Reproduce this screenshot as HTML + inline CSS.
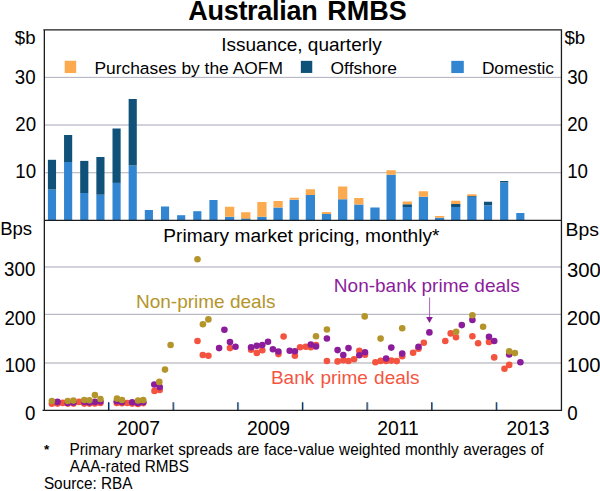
<!DOCTYPE html>
<html lang="en"><head><meta charset="utf-8"><title>Australian RMBS</title>
<style>html,body{margin:0;padding:0;background:#fff}body{width:600px;height:491px;overflow:hidden}svg{display:block}text{font-family:"Liberation Sans",sans-serif;fill:#000}</style></head><body>
<svg width="600" height="491" viewBox="0 0 600 491">
<rect width="600" height="491" fill="#fff"/>
<rect x="44.35" y="77" width="517.10" height="1" fill="#b9b9c5"/>
<rect x="44.35" y="76.6" width="517.10" height="0.4" fill="#e6e6ec"/>
<rect x="44.35" y="124" width="517.10" height="2" fill="#d2d2dc"/>
<rect x="44.35" y="172" width="517.10" height="1" fill="#c2c2ca"/>
<rect x="44.35" y="173" width="517.10" height="1" fill="#ececf0"/>
<rect x="44.35" y="266" width="517.10" height="2" fill="#d2d2dc"/>
<rect x="44.35" y="314" width="517.10" height="1" fill="#b9b9c5"/>
<rect x="44.35" y="313" width="517.10" height="1" fill="#f0f0f4"/>
<rect x="44.35" y="362" width="517.10" height="2" fill="#d2d2d6"/>
<rect x="47.90" y="189.5" width="8.15" height="30.50" fill="#3185d1"/>
<rect x="47.90" y="159.8" width="8.15" height="29.70" fill="#10517a"/>
<rect x="64.05" y="162.0" width="8.15" height="58.00" fill="#3185d1"/>
<rect x="64.05" y="135.0" width="8.15" height="27.00" fill="#10517a"/>
<rect x="80.20" y="193.0" width="8.15" height="27.00" fill="#3185d1"/>
<rect x="80.20" y="160.9" width="8.15" height="32.10" fill="#10517a"/>
<rect x="96.35" y="194.7" width="8.15" height="25.30" fill="#3185d1"/>
<rect x="96.35" y="157.0" width="8.15" height="37.70" fill="#10517a"/>
<rect x="112.50" y="182.9" width="8.15" height="37.10" fill="#3185d1"/>
<rect x="112.50" y="128.5" width="8.15" height="54.40" fill="#10517a"/>
<rect x="128.65" y="165.5" width="8.15" height="54.50" fill="#3185d1"/>
<rect x="128.65" y="99.0" width="8.15" height="66.50" fill="#10517a"/>
<rect x="144.80" y="210.0" width="8.15" height="10.00" fill="#3185d1"/>
<rect x="160.95" y="206.5" width="8.15" height="13.50" fill="#3185d1"/>
<rect x="177.10" y="215.2" width="8.15" height="4.80" fill="#3185d1"/>
<rect x="193.25" y="211.2" width="8.15" height="8.80" fill="#3185d1"/>
<rect x="209.40" y="200.0" width="8.15" height="20.00" fill="#3185d1"/>
<rect x="225.00" y="216.75" width="9.25" height="3.25" fill="#3185d1"/>
<rect x="225.00" y="206.75" width="9.25" height="10.00" fill="#fbaa4f"/>
<rect x="241.15" y="219.0" width="9.25" height="1.00" fill="#3185d1"/>
<rect x="241.15" y="218.5" width="9.25" height="0.50" fill="#10517a"/>
<rect x="241.15" y="212.25" width="9.25" height="6.25" fill="#fbaa4f"/>
<rect x="257.30" y="216.75" width="9.25" height="3.25" fill="#3185d1"/>
<rect x="257.30" y="202.0" width="9.25" height="14.75" fill="#fbaa4f"/>
<rect x="273.45" y="207.5" width="9.25" height="12.50" fill="#3185d1"/>
<rect x="273.45" y="201.0" width="9.25" height="6.50" fill="#fbaa4f"/>
<rect x="289.60" y="199.75" width="9.25" height="20.25" fill="#3185d1"/>
<rect x="289.60" y="197.75" width="9.25" height="2.00" fill="#fbaa4f"/>
<rect x="305.75" y="195.0" width="9.25" height="25.00" fill="#3185d1"/>
<rect x="305.75" y="189.25" width="9.25" height="5.75" fill="#fbaa4f"/>
<rect x="321.90" y="214.0" width="9.25" height="6.00" fill="#3185d1"/>
<rect x="321.90" y="212.1" width="9.25" height="1.90" fill="#fbaa4f"/>
<rect x="338.05" y="199.25" width="9.25" height="20.75" fill="#3185d1"/>
<rect x="338.05" y="186.5" width="9.25" height="12.75" fill="#fbaa4f"/>
<rect x="354.20" y="204.5" width="9.25" height="15.50" fill="#3185d1"/>
<rect x="354.20" y="198.0" width="9.25" height="6.50" fill="#fbaa4f"/>
<rect x="370.35" y="207.5" width="9.25" height="12.50" fill="#3185d1"/>
<rect x="386.50" y="174.75" width="9.25" height="45.25" fill="#3185d1"/>
<rect x="386.50" y="170.25" width="9.25" height="4.50" fill="#fbaa4f"/>
<rect x="402.65" y="207.0" width="9.25" height="13.00" fill="#3185d1"/>
<rect x="402.65" y="204.25" width="9.25" height="2.75" fill="#10517a"/>
<rect x="402.65" y="201.5" width="9.25" height="2.75" fill="#fbaa4f"/>
<rect x="418.80" y="196.75" width="9.25" height="23.25" fill="#3185d1"/>
<rect x="418.80" y="191.25" width="9.25" height="5.50" fill="#fbaa4f"/>
<rect x="434.95" y="217.75" width="9.25" height="2.25" fill="#3185d1"/>
<rect x="434.95" y="216.0" width="9.25" height="1.75" fill="#fbaa4f"/>
<rect x="451.10" y="207.0" width="9.25" height="13.00" fill="#3185d1"/>
<rect x="451.10" y="204.0" width="9.25" height="3.00" fill="#10517a"/>
<rect x="451.10" y="200.75" width="9.25" height="3.25" fill="#fbaa4f"/>
<rect x="467.25" y="196.75" width="9.25" height="23.25" fill="#3185d1"/>
<rect x="467.25" y="196.0" width="9.25" height="0.75" fill="#10517a"/>
<rect x="467.25" y="194.25" width="9.25" height="1.75" fill="#fbaa4f"/>
<rect x="483.95" y="205.25" width="8.15" height="14.75" fill="#3185d1"/>
<rect x="483.95" y="201.75" width="8.15" height="3.50" fill="#10517a"/>
<rect x="500.10" y="182.5" width="8.15" height="37.50" fill="#3185d1"/>
<rect x="500.10" y="181.0" width="8.15" height="1.50" fill="#10517a"/>
<rect x="516.25" y="213.0" width="8.15" height="7.00" fill="#3185d1"/>
<rect x="107.25" y="402.4" width="0.8" height="7.6" fill="#fdf3cf"/>
<rect x="108.90" y="402.4" width="0.95" height="7.6" fill="#58a6e6"/>
<rect x="108.00" y="402.2" width="1.05" height="8" fill="#18264a"/>
<rect x="171.88" y="402.4" width="0.8" height="7.6" fill="#fdf3cf"/>
<rect x="173.53" y="402.4" width="0.95" height="7.6" fill="#58a6e6"/>
<rect x="172.63" y="402.2" width="1.05" height="8" fill="#18264a"/>
<rect x="236.51" y="402.4" width="0.8" height="7.6" fill="#fdf3cf"/>
<rect x="238.16" y="402.4" width="0.95" height="7.6" fill="#58a6e6"/>
<rect x="237.26" y="402.2" width="1.05" height="8" fill="#18264a"/>
<rect x="301.14" y="402.4" width="0.8" height="7.6" fill="#fdf3cf"/>
<rect x="302.79" y="402.4" width="0.95" height="7.6" fill="#58a6e6"/>
<rect x="301.89" y="402.2" width="1.05" height="8" fill="#18264a"/>
<rect x="365.77" y="402.4" width="0.8" height="7.6" fill="#fdf3cf"/>
<rect x="367.42" y="402.4" width="0.95" height="7.6" fill="#58a6e6"/>
<rect x="366.52" y="402.2" width="1.05" height="8" fill="#18264a"/>
<rect x="430.40" y="402.4" width="0.8" height="7.6" fill="#fdf3cf"/>
<rect x="432.05" y="402.4" width="0.95" height="7.6" fill="#58a6e6"/>
<rect x="431.15" y="402.2" width="1.05" height="8" fill="#18264a"/>
<rect x="495.03" y="402.4" width="0.8" height="7.6" fill="#fdf3cf"/>
<rect x="496.68" y="402.4" width="0.95" height="7.6" fill="#58a6e6"/>
<rect x="495.78" y="402.2" width="1.05" height="8" fill="#18264a"/>
<circle cx="51.9" cy="403.75" r="3.3" fill="#f4543f"/>
<circle cx="57.5" cy="403.6" r="3.3" fill="#f4543f"/>
<circle cx="62.75" cy="402.9" r="3.3" fill="#f4543f"/>
<circle cx="67.75" cy="403.6" r="3.3" fill="#f4543f"/>
<circle cx="73.5" cy="403.6" r="3.3" fill="#f4543f"/>
<circle cx="79" cy="401.9" r="3.3" fill="#f4543f"/>
<circle cx="84.25" cy="403.6" r="3.3" fill="#f4543f"/>
<circle cx="89.4" cy="403.6" r="3.3" fill="#f4543f"/>
<circle cx="94.9" cy="403.5" r="3.3" fill="#f4543f"/>
<circle cx="100.4" cy="403" r="3.3" fill="#f4543f"/>
<circle cx="116.8" cy="403.0" r="3.3" fill="#f4543f"/>
<circle cx="122" cy="403.2" r="3.3" fill="#f4543f"/>
<circle cx="127.2" cy="403.0" r="3.3" fill="#f4543f"/>
<circle cx="132.2" cy="403.6" r="3.3" fill="#f4543f"/>
<circle cx="138" cy="403.9" r="3.3" fill="#f4543f"/>
<circle cx="143.25" cy="403.1" r="3.3" fill="#f4543f"/>
<circle cx="154.5" cy="390.9" r="3.3" fill="#f4543f"/>
<circle cx="159.7" cy="390" r="3.3" fill="#f4543f"/>
<circle cx="197.5" cy="341.0" r="3.3" fill="#f4543f"/>
<circle cx="202.8" cy="355" r="3.3" fill="#f4543f"/>
<circle cx="208.4" cy="355.8" r="3.3" fill="#f4543f"/>
<circle cx="230" cy="348.1" r="3.3" fill="#f4543f"/>
<circle cx="251.1" cy="349.8" r="3.3" fill="#f4543f"/>
<circle cx="256.8" cy="352.9" r="3.3" fill="#f4543f"/>
<circle cx="262.3" cy="350.3" r="3.3" fill="#f4543f"/>
<circle cx="278.4" cy="354.1" r="3.3" fill="#f4543f"/>
<circle cx="283.6" cy="336.5" r="3.3" fill="#f4543f"/>
<circle cx="294.9" cy="355.8" r="3.3" fill="#f4543f"/>
<circle cx="300.1" cy="347.2" r="3.3" fill="#f4543f"/>
<circle cx="305.8" cy="346.7" r="3.3" fill="#f4543f"/>
<circle cx="310.8" cy="347.2" r="3.3" fill="#f4543f"/>
<circle cx="316" cy="345.1" r="3.3" fill="#f4543f"/>
<circle cx="326.9" cy="361" r="3.3" fill="#f4543f"/>
<circle cx="337.6" cy="361.4" r="3.3" fill="#f4543f"/>
<circle cx="343.3" cy="360.2" r="3.3" fill="#f4543f"/>
<circle cx="348.5" cy="361" r="3.3" fill="#f4543f"/>
<circle cx="354.1" cy="359.3" r="3.3" fill="#f4543f"/>
<circle cx="359.3" cy="350.7" r="3.3" fill="#f4543f"/>
<circle cx="365" cy="354.8" r="3.3" fill="#f4543f"/>
<circle cx="375.4" cy="362.3" r="3.3" fill="#f4543f"/>
<circle cx="380.6" cy="360.9" r="3.3" fill="#f4543f"/>
<circle cx="386.1" cy="360.9" r="3.3" fill="#f4543f"/>
<circle cx="391.3" cy="360.6" r="3.3" fill="#f4543f"/>
<circle cx="396.7" cy="361.1" r="3.3" fill="#f4543f"/>
<circle cx="402.2" cy="356.2" r="3.3" fill="#f4543f"/>
<circle cx="413.1" cy="352.8" r="3.3" fill="#f4543f"/>
<circle cx="418.5" cy="348.8" r="3.3" fill="#f4543f"/>
<circle cx="423.8" cy="342.7" r="3.3" fill="#f4543f"/>
<circle cx="445.3" cy="341" r="3.3" fill="#f4543f"/>
<circle cx="450.7" cy="333.4" r="3.3" fill="#f4543f"/>
<circle cx="456" cy="337.2" r="3.3" fill="#f4543f"/>
<circle cx="472.4" cy="336.3" r="3.3" fill="#f4543f"/>
<circle cx="478.1" cy="343.3" r="3.3" fill="#f4543f"/>
<circle cx="489" cy="341.9" r="3.3" fill="#f4543f"/>
<circle cx="494.2" cy="357.4" r="3.3" fill="#f4543f"/>
<circle cx="504.5" cy="368.7" r="3.3" fill="#f4543f"/>
<circle cx="509.2" cy="364.9" r="3.3" fill="#f4543f"/>
<circle cx="57.5" cy="401.9" r="3.3" fill="#8b1d9b"/>
<circle cx="67.75" cy="403" r="3.3" fill="#8b1d9b"/>
<circle cx="73.5" cy="402.5" r="3.3" fill="#8b1d9b"/>
<circle cx="84.25" cy="402" r="3.3" fill="#8b1d9b"/>
<circle cx="89.4" cy="402.5" r="3.3" fill="#8b1d9b"/>
<circle cx="94.9" cy="401.9" r="3.3" fill="#8b1d9b"/>
<circle cx="100.4" cy="401.5" r="3.3" fill="#8b1d9b"/>
<circle cx="116.8" cy="401.3" r="3.3" fill="#8b1d9b"/>
<circle cx="122" cy="402.1" r="3.3" fill="#8b1d9b"/>
<circle cx="132.2" cy="402.3" r="3.3" fill="#8b1d9b"/>
<circle cx="138" cy="402.9" r="3.3" fill="#8b1d9b"/>
<circle cx="143.25" cy="402.2" r="3.3" fill="#8b1d9b"/>
<circle cx="154.3" cy="384.5" r="3.3" fill="#8b1d9b"/>
<circle cx="159.7" cy="387.1" r="3.3" fill="#8b1d9b"/>
<circle cx="219.1" cy="348.1" r="3.3" fill="#8b1d9b"/>
<circle cx="224.4" cy="329.7" r="3.3" fill="#8b1d9b"/>
<circle cx="230" cy="342" r="3.3" fill="#8b1d9b"/>
<circle cx="235.5" cy="346.7" r="3.3" fill="#8b1d9b"/>
<circle cx="251.1" cy="347.2" r="3.3" fill="#8b1d9b"/>
<circle cx="256.8" cy="345.8" r="3.3" fill="#8b1d9b"/>
<circle cx="262.3" cy="345.1" r="3.3" fill="#8b1d9b"/>
<circle cx="268" cy="341.7" r="3.3" fill="#8b1d9b"/>
<circle cx="272.9" cy="349.3" r="3.3" fill="#8b1d9b"/>
<circle cx="278.4" cy="351.5" r="3.3" fill="#8b1d9b"/>
<circle cx="289.7" cy="350.7" r="3.3" fill="#8b1d9b"/>
<circle cx="294.9" cy="351.2" r="3.3" fill="#8b1d9b"/>
<circle cx="310.8" cy="344.6" r="3.3" fill="#8b1d9b"/>
<circle cx="316" cy="346.5" r="3.3" fill="#8b1d9b"/>
<circle cx="326.9" cy="338.5" r="3.3" fill="#8b1d9b"/>
<circle cx="337.6" cy="350.1" r="3.3" fill="#8b1d9b"/>
<circle cx="343.3" cy="355" r="3.3" fill="#8b1d9b"/>
<circle cx="348.5" cy="348.1" r="3.3" fill="#8b1d9b"/>
<circle cx="359.3" cy="355.3" r="3.3" fill="#8b1d9b"/>
<circle cx="365" cy="352.2" r="3.3" fill="#8b1d9b"/>
<circle cx="386.1" cy="358.5" r="3.3" fill="#8b1d9b"/>
<circle cx="391.3" cy="347.6" r="3.3" fill="#8b1d9b"/>
<circle cx="402.2" cy="353.6" r="3.3" fill="#8b1d9b"/>
<circle cx="418.5" cy="346.7" r="3.3" fill="#8b1d9b"/>
<circle cx="429.4" cy="332.4" r="3.3" fill="#8b1d9b"/>
<circle cx="461.8" cy="325.1" r="3.3" fill="#8b1d9b"/>
<circle cx="472.4" cy="319.9" r="3.3" fill="#8b1d9b"/>
<circle cx="489" cy="336.7" r="3.3" fill="#8b1d9b"/>
<circle cx="494.2" cy="341" r="3.3" fill="#8b1d9b"/>
<circle cx="509.2" cy="354.5" r="3.3" fill="#8b1d9b"/>
<circle cx="520.4" cy="362.3" r="3.3" fill="#8b1d9b"/>
<circle cx="51.9" cy="401" r="3.3" fill="#b4952c"/>
<circle cx="67.75" cy="401" r="3.3" fill="#b4952c"/>
<circle cx="73.5" cy="400.6" r="3.3" fill="#b4952c"/>
<circle cx="84.25" cy="400" r="3.3" fill="#b4952c"/>
<circle cx="89.4" cy="400.25" r="3.3" fill="#b4952c"/>
<circle cx="94.9" cy="395" r="3.3" fill="#b4952c"/>
<circle cx="100.4" cy="399" r="3.3" fill="#b4952c"/>
<circle cx="117.0" cy="398.6" r="3.3" fill="#b4952c"/>
<circle cx="122" cy="400.0" r="3.3" fill="#b4952c"/>
<circle cx="138.1" cy="400.5" r="3.3" fill="#b4952c"/>
<circle cx="143.2" cy="400.1" r="3.3" fill="#b4952c"/>
<circle cx="159.3" cy="381.9" r="3.3" fill="#b4952c"/>
<circle cx="165" cy="369.6" r="3.3" fill="#b4952c"/>
<circle cx="170.6" cy="345" r="3.3" fill="#b4952c"/>
<circle cx="197.5" cy="259.2" r="3.3" fill="#b4952c"/>
<circle cx="202.9" cy="324.3" r="3.3" fill="#b4952c"/>
<circle cx="208.4" cy="319.4" r="3.3" fill="#b4952c"/>
<circle cx="316" cy="336.3" r="3.3" fill="#b4952c"/>
<circle cx="326.9" cy="329.5" r="3.3" fill="#b4952c"/>
<circle cx="364.7" cy="316.4" r="3.3" fill="#b4952c"/>
<circle cx="380.6" cy="338.6" r="3.3" fill="#b4952c"/>
<circle cx="402.2" cy="328.2" r="3.3" fill="#b4952c"/>
<circle cx="456.1" cy="331.7" r="3.3" fill="#b4952c"/>
<circle cx="472.4" cy="315.2" r="3.3" fill="#b4952c"/>
<circle cx="483.1" cy="326.8" r="3.3" fill="#b4952c"/>
<circle cx="509.2" cy="351.4" r="3.3" fill="#b4952c"/>
<circle cx="514.9" cy="353.1" r="3.3" fill="#b4952c"/>
<line x1="429.55" x2="429.55" y1="297.6" y2="318" stroke="#8b1d9b" stroke-width="1.1" stroke-opacity="0.62"/>
<path d="M426.1 317.0 L432.8 317.0 L429.5 323.0 Z" fill="#8b1d9b"/>
<path d="M44.35 29.9 H561.45 V410.35 H44.35 Z M44.35 220.35 H561.45 M44.35 410.35 H42.550000000000004 M44.35 29.9 H43.35" fill="none" stroke="#1c1c1c" stroke-width="1.3" stroke-linejoin="miter"/>
<text x="188.3" y="19.5" font-size="27" font-weight="bold"><tspan letter-spacing="-0.3">Australian</tspan><tspan dx="2.3"> RMBS</tspan></text>
<text x="301.5" y="50.9" font-size="19" text-anchor="middle">Issuance, quarterly</text>
<text x="301.4" y="241.9" font-size="19.12" text-anchor="middle">Primary market pricing, monthly*</text>
<rect x="64.7" y="60.75" width="11.45" height="12.3" fill="#fbaa4f"/>
<rect x="300.85" y="60.85" width="11.4" height="12.1" fill="#10517a"/>
<rect x="451.3" y="60.85" width="12.5" height="12.2" fill="#3185d1"/>
<text x="94.4" y="74.2" font-size="17.4" text-anchor="start">Purchases by the AOFM</text>
<text x="330.6" y="74.2" font-size="17.4" text-anchor="start">Offshore</text>
<text x="481.9" y="74.2" font-size="17.3" text-anchor="start">Domestic</text>
<text transform="translate(35.5 44.3) scale(0.98 1.0)" font-size="19" text-anchor="end">$b</text>
<text transform="translate(35.6 83.6) scale(0.95 1.0)" font-size="19.7" text-anchor="end">30</text>
<text transform="translate(36.1 131.2) scale(0.95 1.0)" font-size="19.7" text-anchor="end">20</text>
<text transform="translate(36.1 178.2) scale(0.95 1.0)" font-size="19.7" text-anchor="end">10</text>
<text transform="translate(32.1 235.4) scale(0.975 1.0)" font-size="19" text-anchor="end">Bps</text>
<text transform="translate(35.3 275.6) scale(0.95 1.0)" font-size="19.7" text-anchor="end">300</text>
<text transform="translate(35.6 324.5) scale(0.95 1.0)" font-size="19.7" text-anchor="end">200</text>
<text transform="translate(35.6 371.7) scale(0.95 1.0)" font-size="19.7" text-anchor="end">100</text>
<text transform="translate(35.4 419.8) scale(0.95 1.0)" font-size="19.7" text-anchor="end">0</text>
<text transform="translate(564.4 44.3) scale(0.98 1.0)" font-size="19" text-anchor="start">$b</text>
<text transform="translate(567.2 83.7) scale(0.95 1.0)" font-size="19.7" text-anchor="start">30</text>
<text transform="translate(567.2 131.0) scale(0.95 1.0)" font-size="19.7" text-anchor="start">20</text>
<text transform="translate(567.2 178.1) scale(0.95 1.0)" font-size="19.7" text-anchor="start">10</text>
<text transform="translate(565.6 235.5) scale(1.02 1.0)" font-size="19" text-anchor="start">Bps</text>
<text transform="translate(567.0 276.7) scale(1.03 1.0)" font-size="19.7" text-anchor="start">300</text>
<text transform="translate(566.8 324.5) scale(1.03 1.0)" font-size="19.7" text-anchor="start">200</text>
<text transform="translate(566.8 371.7) scale(1.03 1.0)" font-size="19.7" text-anchor="start">100</text>
<text transform="translate(567.2 419.8) scale(0.95 1.0)" font-size="19.7" text-anchor="start">0</text>
<text transform="translate(138.5 434.8) scale(0.975 1.0)" font-size="19.8" text-anchor="middle">2007</text>
<text transform="translate(268.5 434.8) scale(0.975 1.0)" font-size="19.8" text-anchor="middle">2009</text>
<text transform="translate(398.0 434.8) scale(0.975 1.0)" font-size="19.8" text-anchor="middle">2011</text>
<text transform="translate(528.0 434.8) scale(0.975 1.0)" font-size="19.8" text-anchor="middle">2013</text>
<text x="205.7" y="308.3" font-size="19" text-anchor="middle" style="fill:#b4952c">Non-prime deals</text>
<text x="426.8" y="291.7" font-size="19" text-anchor="middle" style="fill:#8b1d9b">Non-bank prime deals</text>
<text x="345.2" y="384.2" font-size="19" text-anchor="middle" style="fill:#f4553f" word-spacing="0.9">Bank prime deals</text>
<text x="44.1" y="454.1" font-size="13.5" font-weight="bold">*</text>
<text transform="translate(69.5 455.4) scale(1.0 1.03)" font-size="15.33" text-anchor="start" word-spacing="0.3">Primary market spreads are face-value weighted monthly averages of</text>
<text transform="translate(69.8 472.3) scale(1.0 1.03)" font-size="15.33" text-anchor="start">AAA-rated RMBS</text>
<text transform="translate(43.9 489.1) scale(1.0 1.03)" font-size="15.33" text-anchor="start">Source: RBA</text>
</svg></body></html>
